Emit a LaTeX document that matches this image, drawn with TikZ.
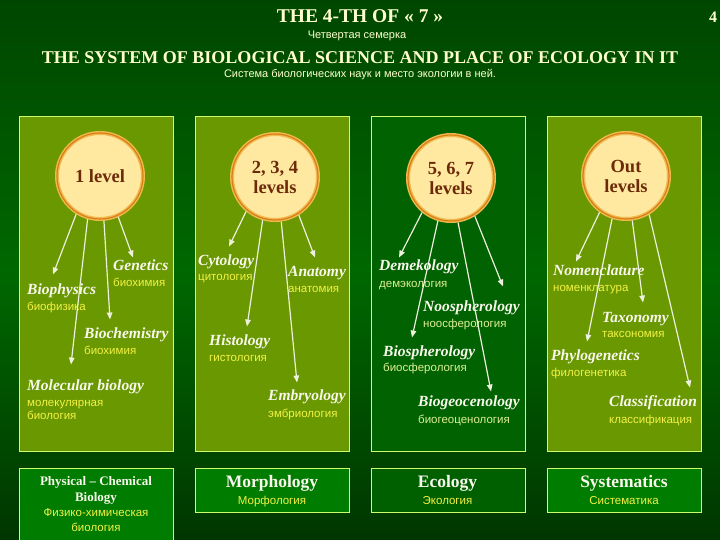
\documentclass[tikz,border=0pt]{standalone}
\usepackage{fontspec}
\setmainfont{Liberation Serif}
\newfontfamily\rusfont{Liberation Sans}
\usepackage{tikz}
\usetikzlibrary{positioning}
\usetikzlibrary{arrows.meta}

\definecolor{bgtop}{RGB}{0,70,0}
\definecolor{bgmid}{RGB}{0,104,0}
\definecolor{bgbot}{RGB}{0,54,0}
\definecolor{paneloil}{RGB}{106,152,0}
\definecolor{paneldark}{RGB}{0,98,0}
\definecolor{boxgreen}{RGB}{0,124,0}
\definecolor{boxdark}{RGB}{0,96,0}
\definecolor{limeline}{RGB}{204,255,110}
\definecolor{cream}{RGB}{255,233,160}
\definecolor{rimlight}{RGB}{242,184,80}
\definecolor{rimdark}{RGB}{214,128,20}
\definecolor{brownish}{RGB}{108,42,10}
\definecolor{paleyellow}{RGB}{255,255,204}
\definecolor{rusyellow}{RGB}{242,242,70}
\definecolor{ruspale}{RGB}{222,240,150}
\definecolor{labwhite}{RGB}{248,248,236}
\definecolor{arrowcol}{RGB}{236,240,220}

\begin{document}
\begin{tikzpicture}[x=1pt, y=-1pt,
  panel/.style={draw=limeline, line width=0.9pt},
  lvcircle/.style={circle, minimum size=86pt, inner sep=0pt, fill=cream,
    draw=rimlight, line width=4pt,
    postaction={draw=rimdark, line width=1.2pt},
    align=center, text=brownish, font=\fontsize{18.5}{20}\selectfont\bfseries},
  sci/.style={anchor=west, inner sep=0pt, text=labwhite, text height=10.5pt,
    text depth=3pt, font=\fontsize{15.5}{17}\selectfont\bfseries\itshape},
  rus/.style={anchor=west, inner sep=0pt, text=rusyellow, text height=8pt,
    text depth=2.5pt, font=\rusfont\fontsize{11.5}{13}\selectfont},
  rusb/.style={rus, text=ruspale},
  bigsci/.style={inner sep=0pt, text=labwhite, text height=12pt, text depth=4pt,
    font=\fontsize{17.5}{19}\selectfont\bfseries},
  title/.style={inner sep=0pt, text=paleyellow, font=\fontsize{18}{20}\selectfont\bfseries},
  subtitle/.style={inner sep=0pt, text=paleyellow, font=\rusfont\fontsize{11}{13}\selectfont},
  arr/.style={draw=arrowcol, line width=1.2pt, -{Triangle[length=7pt,width=5.5pt]}}
]

\useasboundingbox (0,0) rectangle (720,540);
\shade[top color=bgtop, bottom color=bgbot, middle color=bgmid] (0,0) rectangle (720,540);

% headings
\node[title, font=\fontsize{19.5}{21}\selectfont\bfseries] (top) at (360,16) {THE 4-TH OF « 7 »};
\node[title, font=\fontsize{16}{18}\selectfont\bfseries] (pagenum) at (713,17) {4};
\node[subtitle] (topr) at (357,36) {Четвертая семерка};
\node[title] (head) at (360,58) {THE SYSTEM OF BIOLOGICAL SCIENCE AND PLACE OF ECOLOGY IN IT};
\node[subtitle] (headr) at (360,75) {Система биологических наук и место экологии в ней.};

% panels
\foreach \x/\c in {19/paneloil,195/paneloil,371/paneldark,547/paneloil}
\draw[panel, fill=\c] (\x,116) rectangle ++(154,335);

\foreach \x/\c in {19/boxgreen,195/boxgreen,371/boxdark,547/boxgreen}
\draw[panel, fill=\c] (\x,468) rectangle ++(154,44);
\draw[panel, fill=boxgreen] (19,468) rectangle (173,545);

% levels
\node[lvcircle] (one) at (100,176) {1 level};
\node[lvcircle] (twofour) at (275,177) {2, 3, 4\\levels};
\node[lvcircle] (fiveseven) at (451,178) {5, 6, 7\\levels};
\node[lvcircle] (outer) at (626,176) {Out\\levels};

% 1 level
\node[sci] (genetics) at (113,267) {Genetics};
\node[rus, below right=4pt and 0pt of genetics.south west] (geneticsr) {биохимия};
\node[sci] (biophysics) at (27,291) {Biophysics};
\node[rus, below right=4pt and 0pt of biophysics.south west] (biophysicsr) {биофизика};
\node[sci] (biochem) at (84,335) {Biochemistry};
\node[rus, below right=4pt and 0pt of biochem.south west] (biochemr) {биохимия};
\node[sci] (molbio) at (27,387) {Molecular biology};
\node[rus, below right=4pt and 0pt of molbio.south west] (molbior) {молекулярная};
\node[rus, below right=2.5pt and 0pt of molbior.south west] (molbior2) {биология};

% 2, 3, 4 levels
\node[sci] (cytology) at (198,262) {Cytology};
\node[rus, below right=3.5pt and 0pt of cytology.south west] (cytologyr) {цитология};
\node[sci] (anatomy) at (288,273) {Anatomy};
\node[rus, below right=4pt and 0pt of anatomy.south west] (anatomyr) {анатомия};
\node[sci] (histology) at (209,342) {Histology};
\node[rus, below right=4pt and 0pt of histology.south west] (histologyr) {гистология};
\node[sci] (embryology) at (268,397) {Embryology};
\node[rus, below right=5pt and 0pt of embryology.south west] (embryologyr) {эмбриология};

% 5, 6, 7 levels
\node[sci] (demek) at (379,267) {Demekology};
\node[rusb, below right=5pt and 0pt of demek.south west] (demekr) {демэкология};
\node[sci] (noosph) at (423,308) {Noospherology};
\node[rusb, below right=4pt and 0pt of noosph.south west] (noosphr) {ноосферология};
\node[sci] (biosph) at (383,353) {Biospherology};
\node[rusb, below right=3.5pt and 0pt of biosph.south west] (biosphr) {биосферология};
\node[sci] (biogeo) at (418,403) {Biogeocenology};
\node[rusb, below right=5pt and 0pt of biogeo.south west] (biogeor) {биогеоценология};

% out levels
\node[sci] (nomen) at (553,272) {Nomenclature};
\node[rus, below right=4pt and 0pt of nomen.south west] (nomenr) {номенклатура};
\node[sci] (taxon) at (602,319) {Taxonomy};
\node[rus, below right=3.5pt and 0pt of taxon.south west] (taxonr) {таксономия};
\node[sci] (phylo) at (551,357) {Phylogenetics};
\node[rus, below right=4pt and 0pt of phylo.south west] (phylor) {филогенетика};
\node[sci] (classif) at (609,403) {Classification};
\node[rus, below right=5pt and 0pt of classif.south west] (classifr) {классификация};

% arrows
\foreach \a/\t/\dx/\dy in {238/biophysics/26/9.5, 254/molbio/44/15.5, 275/biochem/26/8.5, 294/genetics/20/2.5}
\draw[arr] (one.\a) -- ([xshift=\dx pt,yshift=\dy pt]\t.north west);

\foreach \a/\t/\dx/\dy in {230/cytology/31/8.5, 254/histology/38/8.5, 278/embryology/29/7.5, 302/anatomy/27/8.5}
\draw[arr] (twofour.\a) -- ([xshift=\dx pt,yshift=\dy pt]\t.north west);

\foreach \a/\t/\dx/\dy in {230/demek/20/2.5, 253/biosph/29/8.5, 279/biogeo/73/4.5, 302/noosph/80/14.5}
\draw[arr] (fiveseven.\a) -- ([xshift=\dx pt,yshift=\dy pt]\t.north west);

\foreach \a/\t/\dx/\dy in {234/nomen/23/3.5, 252/phylo/36/8.5, 278/taxon/41/9.5, 301/classif/81/8.5}
\draw[arr] (outer.\a) -- ([xshift=\dx pt,yshift=\dy pt]\t.north west);

% bottom boxes
\node[inner sep=0pt, text=labwhite, align=center, font=\fontsize{13}{16}\selectfont\bfseries] (physchem) at (96,490) {Physical – Chemical\\Biology};
\node[inner sep=0pt, text=rusyellow, align=center, font=\rusfont\fontsize{11.5}{15}\selectfont] (physchemr) at (96,520.5) {Физико-химическая\\биология};

\node[bigsci] (morph) at (272,483) {Morphology};
\node[rus, below=5pt of morph] (morphr) {Морфология};
\node[bigsci] (ecol) at (447.5,483) {Ecology};
\node[rus, below=5pt of ecol] (ecolr) {Экология};
\node[bigsci] (system) at (624,483) {Systematics};
\node[rus, below=5pt of system] (systemr) {Систематика};

\end{tikzpicture}
\end{document}
